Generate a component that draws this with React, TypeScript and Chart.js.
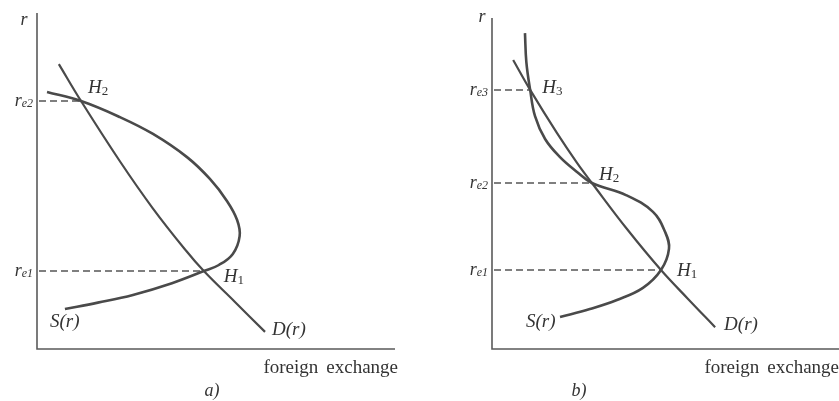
import React, { useEffect, useRef } from "react";
import { Chart, registerables } from "chart.js";

Chart.register(...registerables);

// Panel a): supply S(r) bends back once, two equilibria
const supplyA_fx = [0.28, 1.23, 2.32, 3.24, 4.19, 4.83, 5.31, 5.59, 5.66, 5.47, 5.08, 4.66, 3.77, 2.68, 1.7, 0.78];
const supplyA_r = [7.65, 7.38, 6.9, 6.4, 5.71, 5.06, 4.4, 3.84, 3.36, 2.83, 2.5, 2.32, 1.96, 1.61, 1.38, 1.19];
const demandA_fx = [0.61, 1.23, 2.32, 3.24, 4.16, 4.66, 5.53, 6.37];
const demandA_r = [8.48, 7.38, 5.58, 4.18, 2.93, 2.32, 1.4, 0.51];
const eqA_fx = [4.66, 1.23];
const eqA_r = [2.32, 7.38];
const eqA_index = ["1", "2"];

// Panel b): supply S(r) wiggles, three equilibria
const supplyB_fx = [0.95, 0.99, 1.1, 1.24, 1.53, 1.96, 2.45, 2.88, 3.86, 4.64, 4.99, 5.1, 4.87, 4.35, 3.6, 2.82, 1.96];
const supplyB_r = [9.4, 8.54, 7.71, 6.93, 6.25, 5.71, 5.27, 4.94, 4.58, 4.08, 3.48, 2.98, 2.35, 1.82, 1.46, 1.19, 0.95];
const demandB_fx = [0.61, 1.1, 1.87, 2.45, 2.88, 3.89, 4.87, 5.65, 6.43];
const demandB_r = [8.6, 7.71, 6.43, 5.54, 4.94, 3.57, 2.35, 1.49, 0.65];
const eqB_fx = [4.87, 2.88, 1.1];
const eqB_r = [2.35, 4.94, 7.71];
const eqB_index = ["1", "2", "3"];

const axisTitle = "r";
const quantityTitle = ["foreign", "exchange"];
const supplyLabel = "S(r)";
const demandLabel = "D(r)";

const SERIF = '"Liberation Serif", "DejaVu Serif", serif';
const INK = "#4a4a4a";
const TEXT = "#333333";

type LabelOffset = [number, number];

interface PanelProps {
  left: number;
  width: number;
  pad: { left: number; right: number; top: number; bottom: number };
  rMax: number;
  supplyX: number[];
  supplyR: number[];
  demandX: number[];
  demandR: number[];
  eqX: number[];
  eqR: number[];
  eqIndex: string[];
  eqOffsets: LabelOffset[];
  rTitleOffset: LabelOffset;
  sOffset: LabelOffset;
  dOffset: LabelOffset;
  caption: string;
  captionX: number;
  qtyRight: number;
}

function zipPoints(xs: number[], ys: number[]) {
  return xs.map((x, i) => ({ x, y: ys[i] }));
}

function drawSubText(
  ctx: CanvasRenderingContext2D,
  main: string,
  sub: string,
  x: number,
  y: number,
  align: "left" | "right",
  mainFont: string,
  subFont: string,
  subDy: number
) {
  ctx.font = mainFont;
  const w1 = ctx.measureText(main).width;
  ctx.font = subFont;
  const w2 = ctx.measureText(sub).width;
  const left = align === "right" ? x - w1 - w2 : x;
  ctx.textAlign = "left";
  ctx.textBaseline = "middle";
  ctx.font = mainFont;
  ctx.fillText(main, left, y);
  ctx.font = subFont;
  ctx.fillText(sub, left + w1, y + subDy);
}

function Panel(p: PanelProps) {
  const ref = useRef<HTMLCanvasElement | null>(null);

  useEffect(() => {
    const canvas = ref.current;
    if (!canvas) return;

    const decor = {
      id: "decor",
      beforeDatasetsDraw(chart: any) {
        const ctx: CanvasRenderingContext2D = chart.ctx;
        const xs = chart.scales.x;
        const ys = chart.scales.y;
        const ox = xs.getPixelForValue(0);
        const oy = ys.getPixelForValue(0);
        const { top, right } = chart.chartArea;
        ctx.save();
        // axes
        ctx.strokeStyle = "#5a5a5a";
        ctx.lineWidth = 1.6;
        ctx.beginPath();
        ctx.moveTo(ox, top);
        ctx.lineTo(ox, oy);
        ctx.lineTo(right, oy);
        ctx.stroke();
        // dashed guides from the r axis to each equilibrium
        ctx.strokeStyle = "#555555";
        ctx.lineWidth = 1.5;
        ctx.setLineDash([7, 4]);
        p.eqX.forEach((ex, i) => {
          const py = ys.getPixelForValue(p.eqR[i]);
          ctx.beginPath();
          ctx.moveTo(ox + 2, py);
          ctx.lineTo(xs.getPixelForValue(ex), py);
          ctx.stroke();
        });
        ctx.restore();
      },
      afterDatasetsDraw(chart: any) {
        const ctx: CanvasRenderingContext2D = chart.ctx;
        const xs = chart.scales.x;
        const ys = chart.scales.y;
        const ox = xs.getPixelForValue(0);
        const oy = ys.getPixelForValue(0);
        const { top } = chart.chartArea;
        ctx.save();
        ctx.fillStyle = TEXT;
        ctx.textBaseline = "middle";

        // r axis title
        ctx.font = `italic 18px ${SERIF}`;
        ctx.textAlign = "center";
        ctx.fillText(axisTitle, ox + p.rTitleOffset[0], top + p.rTitleOffset[1]);

        // r_e labels and H labels
        p.eqX.forEach((ex, i) => {
          const px = xs.getPixelForValue(ex);
          const py = ys.getPixelForValue(p.eqR[i]);
          drawSubText(
            ctx,
            "r",
            "e" + p.eqIndex[i],
            ox - 4,
            py,
            "right",
            `italic 18px ${SERIF}`,
            `italic 12px ${SERIF}`,
            3
          );
          const [dx, dy] = p.eqOffsets[i];
          drawSubText(
            ctx,
            "H",
            p.eqIndex[i],
            px + dx,
            py + dy,
            "left",
            `italic 19px ${SERIF}`,
            `13px ${SERIF}`,
            4
          );
        });

        // curve labels
        ctx.font = `italic 19px ${SERIF}`;
        ctx.textAlign = "left";
        const sLast = p.supplyX.length - 1;
        ctx.fillText(
          supplyLabel,
          xs.getPixelForValue(p.supplyX[sLast]) + p.sOffset[0],
          ys.getPixelForValue(p.supplyR[sLast]) + p.sOffset[1]
        );
        const dLast = p.demandX.length - 1;
        ctx.fillText(
          demandLabel,
          xs.getPixelForValue(p.demandX[dLast]) + p.dOffset[0],
          ys.getPixelForValue(p.demandR[dLast]) + p.dOffset[1]
        );

        // quantity axis title
        ctx.font = `19px ${SERIF}`;
        ctx.textAlign = "right";
        const exW = ctx.measureText(quantityTitle[1]).width;
        ctx.fillText(quantityTitle[1], p.qtyRight, oy + 19);
        ctx.fillText(quantityTitle[0], p.qtyRight - exW - 8, oy + 19);

        // panel caption
        ctx.font = `italic 18px ${SERIF}`;
        ctx.textAlign = "center";
        ctx.fillText(p.caption, ox + p.captionX, oy + 42);
        ctx.restore();
      },
    };

    const chart = new Chart(canvas, {
      type: "line",
      data: {
        datasets: [
          {
            label: supplyLabel,
            data: zipPoints(p.supplyX, p.supplyR),
            borderColor: INK,
            borderWidth: 2.6,
            tension: 0.4,
            pointRadius: 0,
            fill: false,
          },
          {
            label: demandLabel,
            data: zipPoints(p.demandX, p.demandR),
            borderColor: INK,
            borderWidth: 2.2,
            tension: 0.4,
            pointRadius: 0,
            fill: false,
          },
        ],
      },
      options: {
        indexAxis: "y",
        responsive: false,
        animation: false,
        events: [],
        layout: { padding: p.pad },
        scales: {
          x: { type: "linear", min: 0, max: 10, display: false },
          y: { type: "linear", min: 0, max: p.rMax, display: false },
        },
        plugins: {
          legend: { display: false },
          tooltip: { enabled: false },
        },
      },
      plugins: [decor],
    } as any);

    return () => chart.destroy();
  }, []);

  return (
    <canvas
      ref={ref}
      width={p.width}
      height={401}
      style={{ position: "absolute", left: p.left, top: 0, width: p.width, height: 401, display: "block" }}
    />
  );
}

export default function App() {
  return (
    <div style={{ position: "fixed", left: 0, top: 0, width: 839, height: 401, background: "#ffffff" }}>
      <Panel
        left={0}
        width={419}
        pad={{ left: 37, right: 24, top: 13, bottom: 52 }}
        rMax={10}
        supplyX={supplyA_fx}
        supplyR={supplyA_r}
        demandX={demandA_fx}
        demandR={demandA_r}
        eqX={eqA_fx}
        eqR={eqA_r}
        eqIndex={eqA_index}
        eqOffsets={[
          [20, 6],
          [7, -13],
        ]}
        rTitleOffset={[-13, 7]}
        sOffset={[-15, 13]}
        dOffset={[7, -2]}
        caption="a)"
        captionX={175}
        qtyRight={398}
      />
      <Panel
        left={419}
        width={420}
        pad={{ left: 73, right: 0, top: 18, bottom: 52 }}
        rMax={9.85}
        supplyX={supplyB_fx}
        supplyR={supplyB_r}
        demandX={demandB_fx}
        demandR={demandB_r}
        eqX={eqB_fx}
        eqR={eqB_r}
        eqIndex={eqB_index}
        eqOffsets={[
          [16, 1],
          [7, -8],
          [12, -2],
        ]}
        rTitleOffset={[-10, -1]}
        sOffset={[-34, 5]}
        dOffset={[9, -2]}
        caption="b)"
        captionX={87}
        qtyRight={420}
      />
    </div>
  );
}
